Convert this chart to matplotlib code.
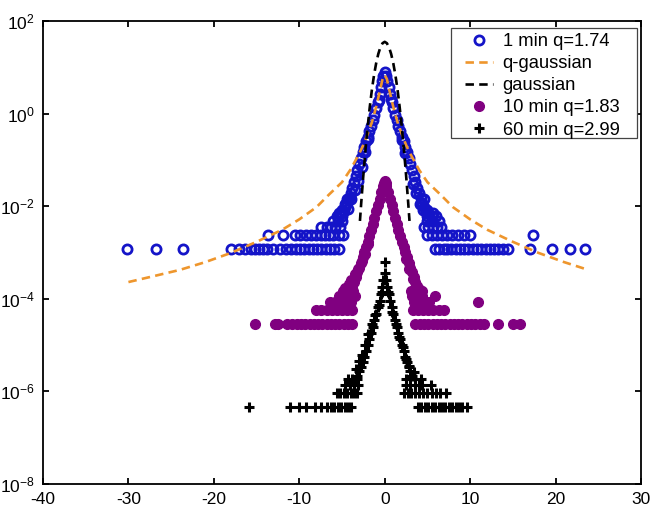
import matplotlib
matplotlib.use("Agg")
import matplotlib.pyplot as plt
from matplotlib.ticker import NullLocator, FixedLocator
from matplotlib.lines import Line2D
from matplotlib.patches import Rectangle

plt.rcParams['font.family'] = ['Liberation Sans', 'DejaVu Sans']
plt.rcParams['mathtext.fontset'] = 'custom'
plt.rcParams['mathtext.rm'] = 'Liberation Sans'
plt.rcParams['mathtext.it'] = 'Liberation Sans:italic'
plt.rcParams['mathtext.bf'] = 'Liberation Sans:bold'
plt.rcParams['mathtext.default'] = 'regular'
plt.rcParams['axes.unicode_minus'] = False

# ---------------- data ----------------
# 1 min data, central part
blue_core_x = [-4.8, -4.6, -4.4, -4.2, -4.0, -3.8, -3.6, -3.4, -3.2, -3.0, -2.8, -2.6, -2.4,
               -2.2, -2.0, -1.8, -1.6, -1.4, -1.2, -1.0, -0.8, -0.6, -0.45, -0.3, -0.15, 0.0,
               0.15, 0.3, 0.45, 0.6, 0.8, 1.0, 1.2, 1.4, 1.6, 1.8, 2.0, 2.2, 2.4, 2.6, 2.8,
               3.0, 3.2, 3.4, 3.6, 3.8, 4.0, 4.2, 4.4, 4.6, 4.8]
blue_core_y = [0.0078, 0.0095, 0.012, 0.015, 0.019, 0.025, 0.033, 0.045, 0.06, 0.083, 0.11,
               0.145, 0.19, 0.25, 0.32, 0.42, 0.55, 0.72, 0.95, 1.3, 1.8, 2.6, 3.8, 5.0, 6.5,
               8.0,
               6.5, 5.0, 3.8, 2.6, 1.8, 1.3, 0.95, 0.72, 0.55, 0.42, 0.32, 0.25, 0.19, 0.145,
               0.11, 0.083, 0.06, 0.045, 0.033, 0.025, 0.019, 0.015, 0.012, 0.0095, 0.0078]
blue_extra_x = [-4.3, -3.9, -3.5, -3.1, -2.7, -5.1, 3.3, 3.7, 4.1, 4.5, 5.2, -0.7, 0.7,
                -5.0, -4.6, -4.4, 4.4, 4.9, 4.6, -5.3, 5.0, 5.7, -2.3, 2.4, -1.9, 2.0]
blue_extra_y = [0.0085, 0.014, 0.022, 0.035, 0.07, 0.0072, 0.03, 0.019, 0.011, 0.0082, 0.0068,
                2.0, 2.1, 0.0084, 0.011, 0.014, 0.011, 0.0084, 0.014, 0.0072, 0.0072, 0.0072,
                0.15, 0.14, 0.28, 0.27]
# 1 min data, tail rows (1, 2, 3, 4, 5 counts)
blue_row_levels = [1.2e-3, 2.4e-3, 3.6e-3, 4.8e-3, 6.0e-3]
blue_row_x = [
    [-30.2, -26.8, -23.6, -18.0, -17.1, -16.3, -15.7, -15.2, -14.7, -14.2, -13.8, -13.1, -12.3,
     -11.6, -11.0, -10.4, -9.9, -9.4, -8.9, -8.4, -7.9, -7.4, -6.9, -6.4, -5.9, -5.4,
     5.9, 6.4, 6.9, 7.3, 7.8, 8.3, 8.8, 9.3, 9.8, 10.3, 10.8, 11.3, 11.8, 12.3, 12.8, 13.3,
     13.8, 14.4, 17.0, 19.6, 21.7, 23.4],
    [-13.7, -11.9, -10.5, -9.9, -9.2, -8.6, -8.0, -7.5, -7.0, -6.5, -6.0, -5.4, -4.9,
     4.9, 5.5, 6.1, 6.7, 7.3, 7.9, 8.6, 9.3, 10.0, 17.4],
    [-7.4, -6.8, -6.3, -5.8, -5.2, 4.6, 5.1, 5.6, 6.1, 6.6],
    [-6.1, -5.5, -5.0, 5.0, 5.6, 6.3],
    [-5.6, -5.0, 5.0, 5.5, 6.0],
]

# q-gaussian fit curve
qg_x = [-30, -27, -24, -21, -18, -15, -12, -10, -8, -6.5, -5, -4, -3, -2.5, -2, -1.5, -1.25,
        -1, -0.75, -0.5, -0.25, 0, 0.25, 0.5, 0.75, 1, 1.25, 1.5, 2, 2.5, 3, 4, 5, 6.5, 8,
        10, 12, 15, 18, 21, 23.5]
qg_y = [0.00023, 0.00031, 0.00042, 0.00062, 0.00098, 0.0017, 0.0031, 0.0052, 0.0095, 0.018,
        0.033, 0.062, 0.135, 0.21, 0.36, 0.65, 0.95, 1.4, 2.2, 3.5, 5.6, 6.8, 5.6, 3.5, 2.2,
        1.4, 0.95, 0.65, 0.36, 0.21, 0.135, 0.062, 0.033, 0.018, 0.0095, 0.0052, 0.0031,
        0.0017, 0.00098, 0.00062, 0.00044]

# gaussian curve
gauss_x = [-2.9, -2.75, -2.5, -2.25, -2.0, -1.75, -1.5, -1.25, -1.0, -0.75, -0.5, -0.25, 0.0,
           0.25, 0.5, 0.75, 1.0, 1.25, 1.5, 1.75, 2.0, 2.25, 2.5, 2.75, 2.9]
gauss_y = [0.0048, 0.0118, 0.047, 0.166, 0.51, 1.38, 3.3, 6.8, 12.3, 19.5, 27.2, 33.2, 35.5,
           33.2, 27.2, 19.5, 12.3, 6.8, 3.3, 1.38, 0.51, 0.166, 0.047, 0.0118, 0.0048]

# 10 min data
purple_core_x = [-3.8, -3.6, -3.4, -3.2, -3.0, -2.8, -2.6, -2.4, -2.2, -2.0, -1.8, -1.6, -1.4,
                 -1.2, -1.0, -0.8, -0.6, -0.4, -0.2, 0.0, 0.2, 0.4, 0.6, 0.8, 1.0, 1.2, 1.4,
                 1.6, 1.8, 2.0, 2.2, 2.4, 2.6, 2.8, 3.0, 3.2, 3.4, 3.6, 3.8]
purple_core_y = [0.00019, 0.00023, 0.00029, 0.00037, 0.00047, 0.0006, 0.00078, 0.001, 0.0013,
                 0.0017, 0.0023, 0.0031, 0.0042, 0.0057, 0.0077, 0.0105, 0.0145, 0.020, 0.027,
                 0.035,
                 0.027, 0.020, 0.0145, 0.0105, 0.0077, 0.0057, 0.0042, 0.0031, 0.0023, 0.0017,
                 0.0013, 0.001, 0.00078, 0.0006, 0.00047, 0.00037, 0.00029, 0.00023, 0.00019]
purple_extra_x = [-4.6, -4.2, -3.9, -3.5, -3.1, -2.7, -2.3, -1.9, 2.5, 2.9, 3.3, 4.0, 4.4, 0.1, -0.1]
purple_extra_y = [0.00017, 0.00021, 0.00026, 0.00034, 0.00045, 0.00065, 0.00095, 0.0015,
                  0.00072, 0.00044, 0.00027, 0.00016, 0.00015, 0.031, 0.031]
purple_row_levels = [2.9e-5, 5.8e-5, 8.7e-5, 1.16e-4, 1.45e-4]
purple_row_x = [
    [-15.2, -12.9, -12.5, -11.4, -10.8, -10.3, -9.8, -9.3, -8.8, -8.3, -7.8, -7.3, -6.8, -6.3,
     -5.8, -5.3, -4.8, -4.3, -3.8, 3.6, 4.1, 4.6, 5.1, 5.6, 6.1, 6.6, 7.1, 7.6, 8.1, 8.6, 9.1,
     9.6, 10.1, 10.6, 11.1, 11.6, 13.3, 15.0, 15.8],
    [-8.0, -7.4, -6.8, -6.2, -5.6, -5.0, -4.4, -3.8, 3.3, 3.9, 4.5, 5.1, 5.7, 6.3, 6.9],
    [-6.4, -5.8, -5.2, -4.6, -4.0, 3.4, 4.0, 4.6, 5.2, 10.9],
    [-5.3, -4.7, -4.1, -3.5, 3.2, 3.8, 4.4, 5.9],
    [-4.9, -4.3, -3.7, 3.1, 3.7, 4.3],
]

# 60 min data
black_core_x = [-3.2, -3.0, -2.8, -2.6, -2.4, -2.2, -2.0, -1.8, -1.6, -1.4, -1.2, -1.0, -0.8,
                -0.6, -0.45, -0.3, -0.15, 0.0, 0.15, 0.3, 0.45, 0.6, 0.8, 1.0, 1.2, 1.4, 1.6,
                1.8, 2.0, 2.2, 2.4, 2.6, 2.8, 3.0, 3.2]
black_core_y = [2.2e-6, 2.7e-6, 3.4e-6, 4.3e-6, 5.6e-6, 7.5e-6, 1.0e-5, 1.35e-5, 1.85e-5,
                2.5e-5, 3.4e-5, 4.7e-5, 6.5e-5, 9e-5, 1.25e-4, 1.8e-4, 2.6e-4, 3.6e-4,
                2.6e-4, 1.8e-4, 1.25e-4, 9e-5, 6.5e-5, 4.7e-5, 3.4e-5, 2.5e-5, 1.85e-5,
                1.35e-5, 1.0e-5, 7.5e-6, 5.6e-6, 4.3e-6, 3.4e-6, 2.7e-6, 2.2e-6]
black_extra_x = [0.0, -0.7, -1.1, -1.5, -1.9, -2.3, -2.7, -3.0, -3.4, 0.9, 1.3, 1.7, 2.1,
                 2.5, 2.9, 3.4, -0.35, 0.35]
black_extra_y = [6.3e-4, 7.5e-5, 4.5e-5, 2.8e-5, 1.7e-5, 1.0e-5, 6.0e-6, 4.5e-6, 3.0e-6,
                 5.2e-5, 2.8e-5, 1.5e-5, 9.0e-6, 5.0e-6, 3.6e-6, 2.6e-6, 1.4e-4, 1.4e-4]
black_row_levels = [4.6e-7, 9.2e-7, 1.38e-6, 1.84e-6]
black_row_x = [
    [-15.9, -11.1, -10.0, -9.2, -8.2, -7.4, -6.7, -6.3, -5.9, -5.5, -5.1, -4.7, -4.3, -3.9,
     3.9, 4.3, 4.7, 5.1, 5.5, 5.9, 6.3, 6.7, 7.1, 7.5, 7.9, 8.3, 8.7, 9.1, 9.6],
    [-5.6, -5.2, -4.8, -4.4, -4.0, -3.6, -3.3, 2.3, 2.7, 3.1, 3.5, 4.0, 4.5, 5.0, 5.5, 6.0,
     6.5, 7.2],
    [-4.6, -4.1, -3.6, -3.1, 2.5, 3.0, 3.5, 4.0, 4.4, 5.4],
    [-4.3, -3.8, -3.2, 2.5, 3.0, 3.6, 4.2],
]

labels = ['1 min q=1.74', 'q-gaussian', 'gaussian', '10 min q=1.83', '60 min q=2.99']
x_ticks = [-40, -30, -20, -10, 0, 10, 20, 30]
y_ticks = [1e-8, 1e-6, 1e-4, 1e-2, 1e0, 1e2]


def assemble(core_x, core_y, extra_x, extra_y, levels, rows):
    xs = list(core_x) + list(extra_x)
    ys = list(core_y) + list(extra_y)
    for lvl, row in zip(levels, rows):
        xs += row
        ys += [lvl] * len(row)
    return xs, ys


bx, by = assemble(blue_core_x, blue_core_y, blue_extra_x, blue_extra_y, blue_row_levels, blue_row_x)
px, py = assemble(purple_core_x, purple_core_y, purple_extra_x, purple_extra_y, purple_row_levels, purple_row_x)
kx, ky = assemble(black_core_x, black_core_y, black_extra_x, black_extra_y, black_row_levels, black_row_x)

# ---------------- drawing ----------------
BLUE = '#1414c8'
ORANGE = '#ee962d'
PURPLE = '#800080'
DASH = (0, (3.2, 2.0))

fig = plt.figure(figsize=(6.54, 5.21), dpi=100)
ax = fig.add_axes([43 / 654, 1 - 484 / 521, (641 - 43) / 654, (484 - 21) / 521])

blue_style = dict(linestyle='none', marker='o', markersize=6.6, markerfacecolor='none',
                  markeredgecolor=BLUE, markeredgewidth=2.0)
purple_style = dict(linestyle='none', marker='o', markersize=7, markerfacecolor=PURPLE,
                    markeredgecolor=PURPLE)
black_style = dict(linestyle='none', marker='+', markersize=7, color='black',
                   markeredgewidth=2.2)

ax.plot(bx, by, zorder=2, **blue_style)
ax.plot(qg_x, qg_y, linestyle=DASH, color=ORANGE, linewidth=1.9, zorder=3)
ax.plot(gauss_x, gauss_y, linestyle=DASH, color='black', linewidth=1.9, zorder=3)
ax.plot(px, py, zorder=2, **purple_style)
ax.plot(kx, ky, zorder=4, **black_style)

ax.set_yscale('log')
ax.set_xlim(-40, 30)
ax.set_ylim(1e-8, 1e2)
ax.xaxis.set_major_locator(FixedLocator(x_ticks))
ax.yaxis.set_major_locator(FixedLocator(y_ticks))
ax.yaxis.set_minor_locator(NullLocator())
ax.xaxis.set_minor_locator(NullLocator())

for s in ax.spines.values():
    s.set_linewidth(1.3)
ax.tick_params(direction='in', length=4.5, width=1.3, top=True, right=True,
               labelsize=12.5, colors='black')
ax.tick_params(axis='x', pad=6)
ax.tick_params(axis='y', pad=6)

# legend box (drawn separately to match the wide MATLAB frame)
frame = Rectangle(((451 - 43) / 598, (484 - 138) / 463), 186 / 598, 110 / 463,
                  transform=ax.transAxes, facecolor='white', edgecolor='#444444',
                  linewidth=0.9, zorder=5)
ax.add_patch(frame)

handles = [
    Line2D([], [], **blue_style),
    Line2D([], [], linestyle=DASH, color=ORANGE, linewidth=1.9),
    Line2D([], [], linestyle=DASH, color='black', linewidth=1.9),
    Line2D([], [], **purple_style),
    Line2D([], [], **black_style),
]
leg = ax.legend(handles, labels, loc='upper left',
                bbox_to_anchor=((465 - 43) / 598, (484 - 33) / 463),
                borderaxespad=0, borderpad=0, fontsize=13.2, frameon=False,
                handlelength=1.5, handletextpad=0.55, labelspacing=0.28, numpoints=1)
leg.set_zorder(6)

fig.savefig('out.png', dpi=100)
